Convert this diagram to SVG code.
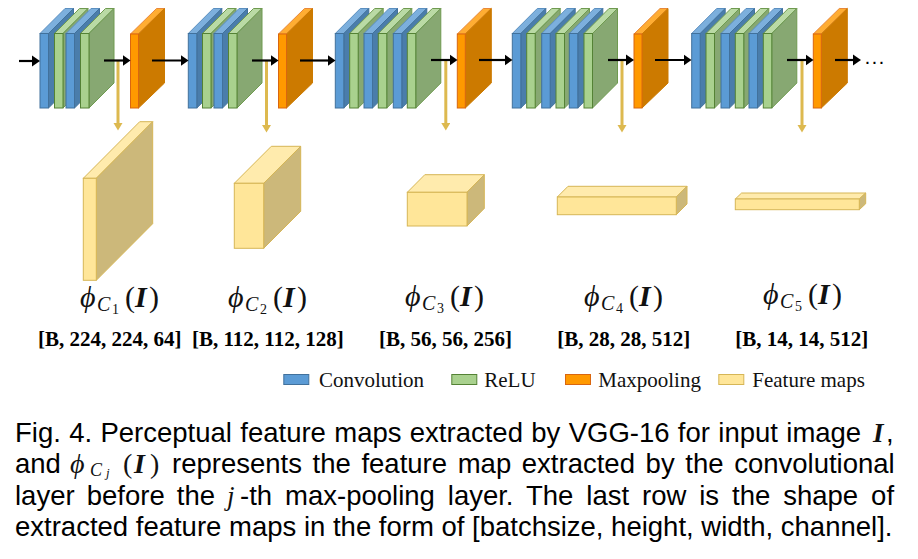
<svg xmlns="http://www.w3.org/2000/svg" width="918" height="559" viewBox="0 0 918 559">
<style>
.cb{fill:#5B9BD5;stroke:#41719C}.ct{fill:#7CAFDD;stroke:#5B8FC0}.cs{fill:#4A7DAB;stroke:#41719C}
.gb{fill:#A9D18E;stroke:#548235}.gt{fill:#BADAA5;stroke:#6F9A50}.gs{fill:#87A872;stroke:#6F9A50}
.ob{fill:#FF9900;stroke:#D9660F}.ot{fill:#FFAD33;stroke:#E8883A}.os{fill:#CC7A00;stroke:#CC7A00}
.yb{fill:#FFE699;stroke:#D6B656}.yt{fill:#FFEBAD;stroke:#D6B656}.ys{fill:#CCB87A;stroke:#D6B656}
.k{stroke:#000;stroke-width:2.2;fill:none;marker-end:url(#ah)}
.au{stroke:#DDB94F;stroke-width:3;fill:none;marker-end:url(#ag)}
.sh{font:bold 21px "Liberation Serif",serif;fill:#000}
.lg{font:21px "Liberation Serif",serif;fill:#111}
.cap{font:27.5px "Liberation Sans",Arial,sans-serif;fill:#000}
.m{font-family:"Liberation Serif",serif;fill:#111}
.mi{font-style:italic}.mb{font-style:italic;font-weight:bold}
</style>
<defs>
<marker id="ah" markerUnits="userSpaceOnUse" markerWidth="9" markerHeight="13" refX="4.5" refY="6" orient="auto"><polygon points="0,0.5 8,6 0,11.5" fill="#000"/></marker>
<marker id="ag" markerUnits="userSpaceOnUse" markerWidth="9" markerHeight="10" refX="4" refY="4.5" orient="auto"><polygon points="0,0 7.5,4.5 0,9" fill="#DDB94F"/></marker>
<g id="conv"><polygon class="ct" points="0,33.5 25,8.5 33.5,8.5 8.5,33.5"/><polygon class="cs" points="8.5,33.5 33.5,8.5 33.5,83 8.5,108"/><rect class="cb" x="0" y="33.5" width="8.5" height="74.5"/></g>
<g id="relu"><polygon class="gt" points="0,33.5 25,8.5 33.5,8.5 8.5,33.5"/><polygon class="gs" points="8.5,33.5 33.5,8.5 33.5,83 8.5,108"/><rect class="gb" x="0" y="33.5" width="8.5" height="74.5"/></g>
<g id="pool"><polygon class="ot" points="0,34 26,8.5 34,8.5 8,34"/><polygon class="os" points="8,34 34,8.5 34,83 8,108"/><rect class="ob" x="0" y="34" width="8" height="74"/></g>
</defs>
<rect width="918" height="559" fill="#fff"/>
<g id="block1"><use href="#conv" x="40"/><use href="#relu" x="54.5"/><use href="#conv" x="66"/><use href="#relu" x="80.5"/></g>
<g id="pool1"><use href="#pool" x="130.5"/></g>
<g id="block2"><use href="#conv" x="188.3"/><use href="#relu" x="202.5"/><use href="#conv" x="214"/><use href="#relu" x="228.5"/></g>
<g id="pool2"><use href="#pool" x="278.5"/></g>
<g id="block3"><use href="#conv" x="335.3"/><use href="#relu" x="349.7"/><use href="#conv" x="364"/><use href="#relu" x="378.3"/><use href="#conv" x="393.3"/><use href="#relu" x="407.3"/></g>
<g id="pool3"><use href="#pool" x="457.3"/></g>
<g id="block4"><use href="#conv" x="512.3"/><use href="#relu" x="526.7"/><use href="#conv" x="541.7"/><use href="#relu" x="556"/><use href="#conv" x="569.3"/><use href="#relu" x="584"/></g>
<g id="pool4"><use href="#pool" x="634"/></g>
<g id="block5"><use href="#conv" x="691.7"/><use href="#relu" x="706"/><use href="#conv" x="721"/><use href="#relu" x="735.3"/><use href="#conv" x="749"/><use href="#relu" x="763.3"/></g>
<g id="pool5"><use href="#pool" x="813.3"/></g>

<g id="feature1"><polygon class="yt" points="83.3,178.3 139.7,121.7 152.7,121.7 96.3,178.3"/><polygon class="ys" points="96.3,178.3 152.7,121.7 152.7,223.7 96.3,280.3"/><rect class="yb" x="83.3" y="178.3" width="13" height="102"/></g>
<g id="feature2"><polygon class="yt" points="234.3,183.3 271.3,146.3 300.7,146.3 263.7,183.3"/><polygon class="ys" points="263.7,183.3 300.7,146.3 300.7,211.3 263.7,248.3"/><rect class="yb" x="234.3" y="183.3" width="29.4" height="65"/></g>
<g id="feature3"><polygon class="yt" points="407.3,192.3 424.8,174.7 484.3,174.7 467,192.3"/><polygon class="ys" points="467,192.3 484.3,174.7 484.3,208.4 467,226"/><rect class="yb" x="407.3" y="192.3" width="59.7" height="33.7"/></g>
<g id="feature4"><polygon class="yt" points="557.3,197 568,186.3 687,186.3 676.3,197"/><polygon class="ys" points="676.3,197 687,186.3 687,204 676.3,214.7"/><rect class="yb" x="557.3" y="197" width="119" height="17.7"/></g>
<g id="feature5"><polygon class="yt" points="735.3,199 741.6,193 865.7,193 859.3,199"/><polygon class="ys" points="859.3,199 865.7,193 865.7,203.7 859.3,209.7"/><rect class="yb" x="735.3" y="199" width="124" height="10.7"/></g>

<g id="connectors">
<line class="au" x1="118" y1="61" x2="118" y2="127"/>
<line class="au" x1="266.5" y1="61" x2="266.5" y2="129"/>
<line class="au" x1="445.8" y1="61" x2="445.8" y2="127"/>
<line class="au" x1="622" y1="61" x2="622" y2="129"/>
<line class="au" x1="802" y1="61" x2="802" y2="129"/>
<line class="k" x1="19" y1="61" x2="36.5" y2="61"/>
<line class="k" x1="104" y1="60.5" x2="127" y2="60.5"/>
<line class="k" x1="152" y1="60.5" x2="185" y2="60.5"/>
<line class="k" x1="252" y1="60.5" x2="275" y2="60.5"/>
<line class="k" x1="300" y1="60.5" x2="332" y2="60.5"/>
<line class="k" x1="431" y1="60" x2="454" y2="60"/>
<line class="k" x1="479" y1="60" x2="509" y2="60"/>
<line class="k" x1="608" y1="60" x2="630.5" y2="60"/>
<line class="k" x1="655" y1="60" x2="688" y2="60"/>
<line class="k" x1="787" y1="60" x2="810" y2="60"/>
<line class="k" x1="835" y1="60" x2="857.5" y2="60"/>
</g>
<text x="865.5" y="64" font-family="Liberation Sans,sans-serif" font-weight="bold" font-size="14" letter-spacing="3.1" fill="#000">...</text>

<g id="label1" class="m"><text y="307" font-size="30"><tspan x="80" class="mi">ϕ</tspan><tspan x="97" y="311" font-size="20" class="mi">C</tspan><tspan x="112" y="314" font-size="14">1</tspan><tspan x="125" y="307">(</tspan><tspan x="135" class="mb">I</tspan><tspan x="149">)</tspan></text></g>
<g id="label2" class="m"><text y="307" font-size="30"><tspan x="228" class="mi">ϕ</tspan><tspan x="245" y="311" font-size="20" class="mi">C</tspan><tspan x="260" y="314" font-size="14">2</tspan><tspan x="273" y="307">(</tspan><tspan x="283" class="mb">I</tspan><tspan x="297">)</tspan></text></g>
<g id="label3" class="m"><text y="306" font-size="30"><tspan x="405" class="mi">ϕ</tspan><tspan x="422" y="310" font-size="20" class="mi">C</tspan><tspan x="437" y="313" font-size="14">3</tspan><tspan x="450" y="306">(</tspan><tspan x="460" class="mb">I</tspan><tspan x="474">)</tspan></text></g>
<g id="label4" class="m"><text y="306" font-size="30"><tspan x="584" class="mi">ϕ</tspan><tspan x="601" y="310" font-size="20" class="mi">C</tspan><tspan x="616" y="313" font-size="14">4</tspan><tspan x="629" y="306">(</tspan><tspan x="639" class="mb">I</tspan><tspan x="653">)</tspan></text></g>
<g id="label5" class="m"><text y="304" font-size="30"><tspan x="763" class="mi">ϕ</tspan><tspan x="780" y="308" font-size="20" class="mi">C</tspan><tspan x="795" y="311" font-size="14">5</tspan><tspan x="808" y="304">(</tspan><tspan x="818" class="mb">I</tspan><tspan x="832">)</tspan></text></g>

<text class="sh" x="38" y="346">[B, 224, 224, 64]</text>
<text class="sh" x="192" y="346">[B, 112, 112, 128]</text>
<text class="sh" x="379" y="346">[B, 56, 56, 256]</text>
<text class="sh" x="557.3" y="346">[B, 28, 28, 512]</text>
<text class="sh" x="735.3" y="346">[B, 14, 14, 512]</text>

<g id="legend">
<rect class="cb" x="283.8" y="374.5" width="25" height="10"/><text class="lg" x="319" y="387">Convolution</text>
<rect class="gb" x="451.8" y="374.5" width="25" height="10"/><text class="lg" x="484.3" y="387">ReLU</text>
<rect class="ob" x="565.5" y="374.5" width="25" height="10"/><text class="lg" x="598.3" y="387">Maxpooling</text>
<rect class="yb" x="718.8" y="374.5" width="25" height="10"/><text class="lg" x="752.3" y="387">Feature maps</text>
</g>

<g id="caption">
<text class="cap" x="15" y="442" word-spacing="0.7">Fig. 4. Perceptual feature maps extracted by VGG-16 for input image</text>
<text class="m mb" x="873" y="442" font-size="27">I</text><text class="cap" x="886" y="442">,</text>
<text class="cap" x="15" y="473">and</text>
<text class="m" y="473" font-size="28"><tspan x="70" class="mi">ϕ</tspan><tspan x="90" y="476" font-size="18" class="mi">C</tspan><tspan x="106" y="476.5" font-size="13" class="mi">j</tspan><tspan x="123" y="473">(</tspan><tspan x="134" class="mb">I</tspan><tspan x="150">)</tspan></text>
<text class="cap" x="172" y="473" word-spacing="3">represents the feature map extracted by the convolutional</text>
<text class="cap" x="15" y="505" word-spacing="4.5">layer before the</text>
<text class="m mi" x="227" y="505" font-size="27">j</text>
<text class="cap" x="240" y="505" word-spacing="5.3">-th max-pooling layer. The last row is the shape of</text>
<text class="cap" x="15" y="536">extracted feature maps in the form of [batchsize, height, width, channel].</text>
</g>
</svg>
